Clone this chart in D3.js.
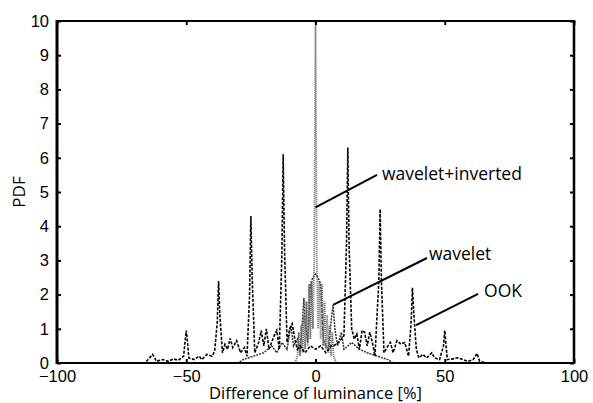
<!DOCTYPE html>
<html>
<head>
<meta charset="utf-8">
<script src="https://cdn.jsdelivr.net/npm/d3@7"></script>
<style>
  html, body { margin: 0; padding: 0; background: #fff; }
  svg { display: block; }
</style>
</head>
<body>
<svg id="chart" width="593" height="403"></svg>
<script>
// ---------- data ----------
const xTicks = [-100, -50, 0, 50, 100];
const yTicks = [0, 1, 2, 3, 4, 5, 6, 7, 8, 9, 10];
const xLabel = "Difference of luminance [%]";
const yLabel = "PDF";

// OOK (black dashed)
const ookX = [-100, -66, -63, -61.5, -59, -57, -55, -53, -51, -50.5, -50, -49.5, -49, -47, -45, -44, -42, -40, -39, -38, -37.5, -37, -36, -35, -34, -33, -32, -30.5, -29, -27.5, -26.5, -25.5, -25, -24.5, -23.5, -22, -21, -20, -19, -18, -16, -15, -14, -13, -12.5, -12, -11, -10, -9, -8, -7, -6, -4, -2, 0, 2, 4, 6, 7, 9, 11, 12, 12.5, 13, 14, 15, 16, 17, 18, 19, 20, 21, 22, 23, 24.5, 25, 25.5, 26.5, 28, 29, 30, 31.5, 33, 34.5, 36, 37, 37.5, 38, 39, 40, 41.5, 43, 45, 46, 48, 49.5, 50, 50.5, 51, 53, 55, 57, 59, 61, 62.5, 63.5, 66, 100];
const ookY = [0, 0, 0.25, 0.05, 0.1, 0.05, 0.12, 0.08, 0.2, 0.6, 0.95, 0.6, 0.15, 0.1, 0.2, 0.1, 0.25, 0.2, 0.35, 1.2, 2.4, 1.4, 0.3, 0.55, 0.4, 0.72, 0.45, 0.65, 0.3, 0.45, 0.2, 2.0, 4.3, 2.5, 0.3, 0.6, 0.95, 0.5, 1.0, 0.4, 0.8, 0.95, 0.4, 3.2, 6.1, 3.4, 0.6, 1.0, 1.15, 0.7, 0.4, 0.5, 0.3, 0.5, 0.4, 0.5, 0.3, 0.5, 0.5, 0.6, 0.8, 3.5, 6.3, 3.4, 1.0, 0.7, 0.85, 0.4, 0.95, 0.9, 0.5, 0.9, 0.6, 0.2, 2.4, 4.5, 2.4, 0.3, 0.5, 0.6, 0.3, 0.65, 0.55, 0.6, 0.2, 1.2, 2.2, 1.5, 0.4, 0.15, 0.25, 0.15, 0.3, 0.15, 0.1, 0.5, 0.95, 0.5, 0.1, 0.12, 0.15, 0.1, 0.05, 0.1, 0.28, 0.05, 0, 0];

// wavelet (dark dashed)
const wavX = [-100, -30, -28, -24, -20, -17, -15, -13, -11, -9.5, -8.5, -7, -6, -5, -4.5, -4, -3, -2, -1, 0, 1, 2, 3, 4, 5, 6, 6.8, 7.5, 8.5, 10, 11, 14, 17, 20, 24, 28, 30, 100];
const wavY = [0, 0, 0.1, 0.2, 0.3, 0.5, 0.3, 0.6, 0.4, 1.1, 0.5, 0.7, 0.3, 1.3, 1.9, 1.2, 0.6, 2.3, 2.5, 2.6, 2.5, 2.3, 0.7, 0.5, 0.4, 1.2, 1.7, 1.0, 0.5, 0.9, 0.4, 0.6, 0.4, 0.3, 0.2, 0.1, 0, 0];

// wavelet+inverted (grey dotted)
const invX = [-100, -8, -7, -6.5, -6, -5.5, -5, -4.5, -4, -3.5, -3, -2.5, -2, -1.5, -1, -0.5, 0, 0.5, 1, 1.5, 2, 2.5, 3, 3.5, 4, 4.5, 5, 5.5, 6, 6.5, 7, 8, 100];
const invY = [0, 0, 0.2, 0.9, 0.2, 1.1, 0.3, 1.4, 0.4, 1.8, 0.5, 2.3, 0.7, 2.4, 1.0, 3.0, 10, 3.0, 1.0, 2.4, 0.7, 2.3, 0.5, 1.8, 0.4, 1.4, 0.3, 1.1, 0.2, 0.9, 0.2, 0, 0];

// annotations: label, text anchor point, leader line end points (data coords)
const annLabels = ["wavelet+inverted", "wavelet", "OOK"];
const annTextX = [25.7, 43.9, 65.2];
const annTextY = [5.35, 3.01, 1.93];
const annLineX1 = [23.8, 43.1, 62.9];
const annLineY1 = [5.5, 3.07, 2.02];
const annLineX2 = [0, 6.8, 38.9];
const annLineY2 = [4.55, 1.7, 1.11];

// ---------- drawing ----------
const W = 593, H = 403;
const margin = {left: 57, top: 21, right: 19, bottom: 40};
const svg = d3.select("#chart");

const x = d3.scaleLinear().domain([-100, 100]).range([margin.left, W - margin.right]);
const y = d3.scaleLinear().domain([0, 10]).range([H - margin.bottom, margin.top]);

svg.append("defs").append("clipPath").attr("id", "clip")
  .append("rect").attr("x", margin.left).attr("y", margin.top - 1)
  .attr("width", W - margin.left - margin.right).attr("height", H - margin.top - margin.bottom + 1);

const line = d3.line().x(d => x(d[0])).y(d => y(d[1]));
const zip = (a, b) => a.map((v, i) => [v, b[i]]);

const plot = svg.append("g").attr("clip-path", "url(#clip)");

plot.append("path").datum(zip(wavX, wavY))
  .attr("d", line).attr("fill", "none")
  .attr("stroke", "#333").attr("stroke-width", 1.5).attr("stroke-dasharray", "2,1");

plot.append("path").datum(zip(invX, invY))
  .attr("d", line).attr("fill", "none")
  .attr("stroke", "#666").attr("stroke-width", 1.8).attr("stroke-dasharray", "1,1");

plot.append("path").datum(zip(ookX, ookY))
  .attr("d", line).attr("fill", "none")
  .attr("stroke", "#000").attr("stroke-width", 1.6).attr("stroke-dasharray", "3,1.5");

// axes
const tickFont = "'Liberation Sans', Arial, Helvetica, sans-serif";
const yAxisL = d3.axisLeft(y).tickValues(yTicks).tickSizeInner(-4).tickSizeOuter(0).tickPadding(8);
const yAxisR = d3.axisRight(y).tickValues(yTicks).tickSizeInner(-4).tickSizeOuter(0).tickFormat("");
const xAxisB = d3.axisBottom(x).tickValues(xTicks).tickSizeInner(-4).tickSizeOuter(0).tickPadding(7);
const xAxisT = d3.axisTop(x).tickValues(xTicks).tickSizeInner(-4).tickSizeOuter(0).tickFormat("");

function style(g) {
  g.select(".domain").remove();
  g.selectAll(".tick line").attr("stroke", "#000").attr("stroke-width", 2);
  g.selectAll(".tick text").attr("fill", "#000")
    .style("font-family", tickFont).style("font-size", "16.5px");
}
svg.append("g").attr("transform", `translate(${margin.left},0)`).call(yAxisL).call(style);
svg.append("g").attr("transform", `translate(${W - margin.right},0)`).call(yAxisR).call(style);
svg.append("g").attr("transform", `translate(0,${H - margin.bottom})`).call(xAxisB).call(style);
svg.append("g").attr("transform", `translate(0,${margin.top})`).call(xAxisT).call(style);

// frame
const x0 = margin.left, x1 = W - margin.right, y0 = margin.top, y1 = H - margin.bottom;
svg.append("line").attr("x1", x0).attr("x2", x0).attr("y1", y0 - 1).attr("y2", y1 + 1)
  .attr("stroke", "#000").attr("stroke-width", 3);
svg.append("line").attr("x1", x1).attr("x2", x1).attr("y1", y0 - 1).attr("y2", y1 + 1)
  .attr("stroke", "#000").attr("stroke-width", 2.5);
svg.append("line").attr("x1", x0).attr("x2", x1).attr("y1", y0).attr("y2", y0)
  .attr("stroke", "#000").attr("stroke-width", 2);
svg.append("line").attr("x1", x0).attr("x2", x1).attr("y1", y1).attr("y2", y1)
  .attr("stroke", "#000").attr("stroke-width", 2);

// axis labels
const labFont = "'Open Sans', 'Noto Sans', sans-serif";
svg.append("text").attr("x", (x0 + x1) / 2).attr("y", 399)
  .attr("text-anchor", "middle").style("font-family", labFont).style("font-size", "16.5px")
  .text(xLabel);
svg.append("text").attr("transform", `translate(25,${(y0 + y1) / 2}) rotate(-90)`)
  .attr("text-anchor", "middle").style("font-family", labFont).style("font-size", "17px")
  .text(yLabel);

// annotations
annLabels.forEach((t, i) => {
  svg.append("line")
    .attr("x1", x(annLineX1[i])).attr("y1", y(annLineY1[i]))
    .attr("x2", x(annLineX2[i])).attr("y2", y(annLineY2[i]))
    .attr("stroke", "#000").attr("stroke-width", 2);
  svg.append("text").attr("x", x(annTextX[i])).attr("y", y(annTextY[i]))
    .style("font-family", labFont).style("font-size", "17.5px").text(t);
});
</script>
</body>
</html>
